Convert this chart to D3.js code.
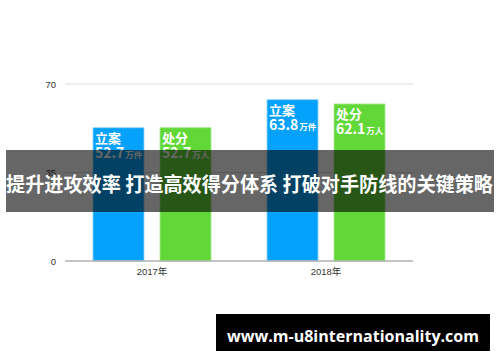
<!DOCTYPE html>
<html><head><meta charset="utf-8">
<script src="https://cdn.jsdelivr.net/npm/d3@7"></script>
<style>body{margin:0;background:#fff}svg{display:block}</style>
</head><body><svg id="c" width="500" height="362"></svg>
<script>
const years = ["2017年", "2018年"];
const seriesNames = ["立案", "处分"];
const seriesUnits = ["万件", "万人"];
const seriesColors = ["#05a2fb", "#62d838"];
const caseValues = [52.7, 63.8];
const punishValues = [52.7, 62.1];
const yTicks = [0, 35, 70];
const bannerText = "提升进攻效率 打造高效得分体系 打破对手防线的关键策略";
const siteText = "www.m-u8internationality.com";

const svg = d3.select("#c");
const font = "'Liberation Sans', Arial, 'Noto Sans CJK SC', sans-serif";
const cjk = "'Noto Sans CJK SC', sans-serif";

const x = d3.scaleBand().domain(years).range([65, 413]).padding(0);
const y = d3.scaleLinear().domain([0, 70]).range([261, 84]);
const inner = d3.scaleBand().domain([0, 1]).range([28, 146]).paddingInner(16 / 67);

// grid
svg.append("g").selectAll("line").data(yTicks.filter(d => d > 0)).join("line")
  .attr("x1", 65).attr("x2", 413).attr("y1", d => y(d)).attr("y2", d => y(d))
  .attr("stroke", "#dddddd").attr("stroke-width", 1);

// y axis labels
const yAxis = d3.axisLeft(y).tickValues(yTicks).tickSize(0).tickPadding(9);
const ga = svg.append("g").attr("transform", "translate(65,0)").call(yAxis);
ga.select(".domain").remove();
ga.selectAll("text").attr("font-family", font).attr("font-size", 9.5).attr("fill", "#333");

// bars
const rows = years.map((yr, i) => ({yr, vals: [caseValues[i], punishValues[i]]}));
rows.forEach(r => {
  r.vals.forEach((v, s) => {
    const bx = x(r.yr) + inner(s);
    const bw = inner.bandwidth();
    svg.append("rect").attr("x", bx).attr("y", y(v)).attr("width", bw).attr("height", y(0) - y(v))
      .attr("fill", seriesColors[s]).attr("stroke", s === 0 ? "#8dd3ff" : "#a4ea8a").attr("stroke-width", 0.8);
    svg.append("text").attr("x", bx + 2).attr("y", y(v) + 15)
      .attr("font-family", cjk).attr("font-weight", "bold").attr("font-size", 13).attr("fill", "#fff")
      .text(seriesNames[s]);
    const t = svg.append("text").attr("x", bx + 2).attr("y", y(v) + 30)
      .attr("font-family", cjk).attr("font-weight", "bold").attr("fill", "#fff");
    t.append("tspan").attr("font-size", 14).text(v.toFixed(1));
    t.append("tspan").attr("font-size", 8.5).attr("dx", 1).text(seriesUnits[s]);
  });
});

// baseline
svg.append("line").attr("x1", 65).attr("x2", 413).attr("y1", y(0)).attr("y2", y(0))
  .attr("stroke", "#b0b0b0").attr("stroke-width", 1.5);

// x labels
const xAxis = d3.axisBottom(x).tickSize(0).tickPadding(7);
const gx = svg.append("g").attr("transform", `translate(0,${y(0)})`).call(xAxis);
gx.select(".domain").remove();
gx.selectAll("text").attr("font-family", font).attr("font-size", 9.5).attr("fill", "#333");

// banner overlay
svg.append("rect").attr("x", 6).attr("y", 150).attr("width", 488).attr("height", 62)
  .attr("fill", "rgba(0,0,0,0.6)");
svg.append("text").attr("x", 6).attr("y", 192)
  .attr("font-family", cjk).attr("font-weight", "bold").attr("font-size", 20).attr("fill", "#fff")
  .attr("textLength", 487).attr("lengthAdjust", "spacingAndGlyphs").text(bannerText);

// site box
svg.append("rect").attr("x", 216).attr("y", 314).attr("width", 274).attr("height", 37).attr("fill", "#000");
svg.append("text").attr("x", 227).attr("y", 342)
  .attr("font-family", "'Open Sans', 'DejaVu Sans', sans-serif").attr("font-weight", "bold").attr("font-size", 16).attr("fill", "#fff")
  .attr("textLength", 252).attr("lengthAdjust", "spacingAndGlyphs").text(siteText);
</script></body></html>
